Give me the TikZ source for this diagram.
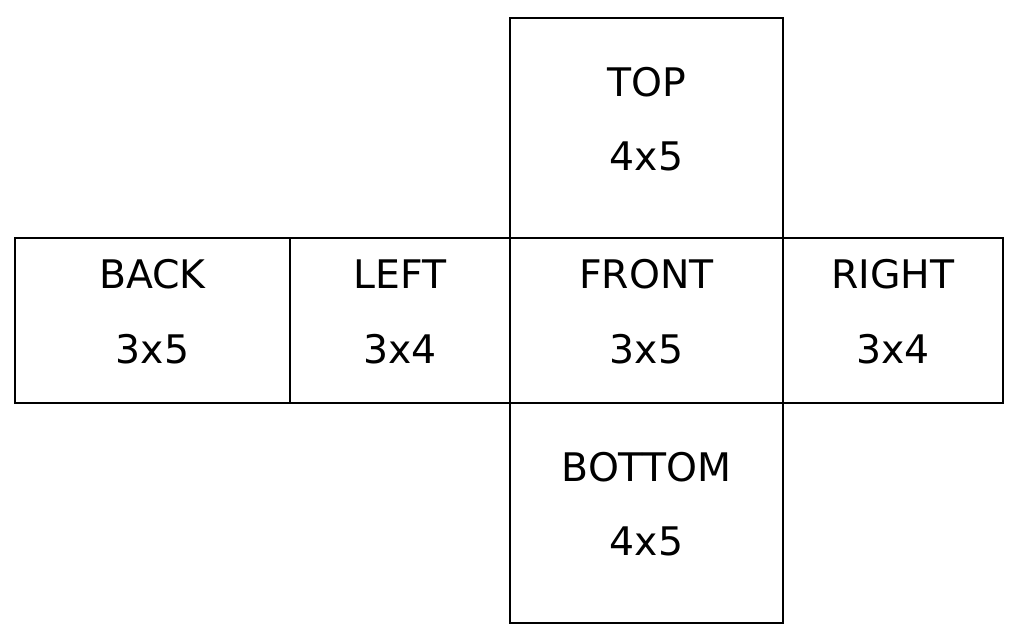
\documentclass[tikz,border=0pt]{standalone}
\usepackage{fontspec}
\setmainfont{DejaVu Sans}
\usetikzlibrary{positioning}

\begin{document}
\begin{tikzpicture}[
    node distance=0pt,
    face/.style={rectangle, draw, line width=1pt, inner sep=0pt, outer sep=0pt, align=center,
                 minimum height=4.125cm, text depth=0.45cm, font=\fontsize{28}{53}\selectfont},
    wideface/.style={face, minimum width=6.825cm},
    sideface/.style={face, minimum width=5.5cm},
    capface/.style={wideface, minimum height=5.5cm}
]
\useasboundingbox (-16.1625,-8.0375) rectangle (9.4375,8.0125);

% Middle row
\node[wideface] (front) {FRONT\\3x5};
\node[sideface, left=of front] (left) {LEFT\\3x4};
\node[wideface, minimum width=6.875cm, left=of left] (back) {BACK\\3x5};
\node[sideface, right=of front] (right) {RIGHT\\3x4};

% Top and bottom
\node[capface, above=of front] (top) {TOP\\4x5};
\node[capface, below=of front] (bottom) {BOTTOM\\4x5};

\end{tikzpicture}
\end{document}
